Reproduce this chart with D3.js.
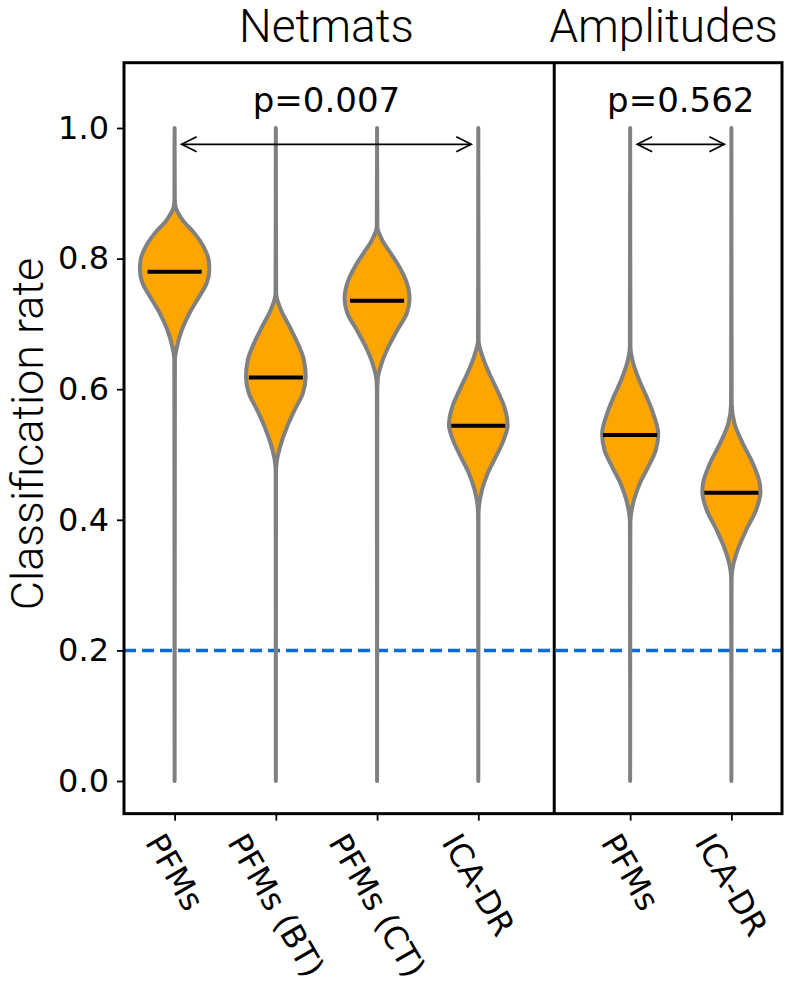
<!DOCTYPE html>
<html><head><meta charset="utf-8">
<script src="https://cdn.jsdelivr.net/npm/d3@7"></script>
<style>body{margin:0;background:#fff}</style>
</head><body>
<svg id="chart" width="786" height="993"></svg>
<script>
// ---------------- data ----------------
const categories = ["PFMs", "PFMs (BT)", "PFMs (CT)", "ICA-DR", "PFMs", "ICA-DR"];
const positions = [1, 2, 3, 4, 5.5, 6.5];
const medians = [0.780, 0.618, 0.7355, 0.544, 0.530, 0.4415];
const yTicks = [0.0, 0.2, 0.4, 0.6, 0.8, 1.0];
const yTickLabels = ["0.0", "0.2", "0.4", "0.6", "0.8", "1.0"];
const panelTitles = ["Netmats", "Amplitudes"];
const panelTitleX = [2.5, 5.83];
const chanceLevel = 0.2;
const yLabel = "Classification rate";
const compFrom = [0, 4];
const compTo = [3, 5];
const compText = ["p=0.007", "p=0.562"];
const compArrowValue = 0.975;
const compTextValue = 1.025;

// violin density profiles: [classification rate, half width in x-units]
const violin1 = [[0.0,0],[0.645,0.003],[0.665,0.023],[0.691,0.072],[0.716,0.145],[0.742,0.244],[0.762,0.316],[0.783,0.343],[0.798,0.336],[0.818,0.287],[0.839,0.195],[0.859,0.079],[0.879,0.010],[0.890,0.002],[1.0,0]];
const violin2 = [[0.0,0],[0.476,0.002],[0.492,0.012],[0.517,0.052],[0.543,0.112],[0.568,0.185],[0.594,0.267],[0.619,0.295],[0.645,0.277],[0.670,0.217],[0.696,0.135],[0.721,0.052],[0.747,0.003],[1.0,0]];
const violin3 = [[0.0,0],[0.594,0.002],[0.614,0.006],[0.640,0.046],[0.665,0.112],[0.691,0.201],[0.716,0.293],[0.739,0.321],[0.767,0.284],[0.788,0.217],[0.808,0.135],[0.828,0.052],[0.849,0.003],[1.0,0]];
const violin4 = [[0.0,0],[0.405,0.002],[0.420,0.006],[0.446,0.037],[0.471,0.092],[0.497,0.175],[0.522,0.250],[0.545,0.290],[0.573,0.257],[0.599,0.185],[0.624,0.109],[0.650,0.042],[0.675,0.003],[1.0,0]];
const violin5 = [[0.0,0],[0.395,0.002],[0.405,0.006],[0.430,0.037],[0.456,0.096],[0.481,0.178],[0.507,0.254],[0.532,0.277],[0.563,0.227],[0.589,0.161],[0.614,0.089],[0.640,0.030],[0.665,0.003],[1.0,0]];
const violin6 = [[0.0,0],[0.308,0.002],[0.323,0.009],[0.354,0.062],[0.384,0.145],[0.415,0.244],[0.443,0.287],[0.456,0.280],[0.487,0.210],[0.517,0.112],[0.548,0.030],[0.578,0.003],[1.0,0]];
const violins = [violin1, violin2, violin3, violin4, violin5, violin6];

// ---------------- drawing ----------------
const svg = d3.select("#chart");
const x = d3.scaleLinear().domain([0.5, 7.0]).range([124, 782]);
const y = d3.scaleLinear().domain([-0.05, 1.1]).range([813.65, 62.7]);

const dejavu = "'DejaVu Sans', sans-serif";
const light = "Roboto, 'Open Sans', Lato, sans-serif";

// chance level dashed line
svg.append("line")
  .attr("x1", x(0.5)).attr("x2", x(7.0))
  .attr("y1", y(chanceLevel)).attr("y2", y(chanceLevel))
  .attr("stroke", "#0a6ad6").attr("stroke-width", 3.5)
  .attr("stroke-dasharray", "12,6");

// violins
const area = d3.area()
  .curve(d3.curveMonotoneY)
  .y(d => y(d[0]));

violins.forEach((prof, i) => {
  const cx = positions[i];
  const a = area
    .x0(d => x(cx - d[1]))
    .x1(d => x(cx + d[1]));
  svg.append("path")
    .attr("d", a(prof))
    .attr("fill", "#ffa500")
    .attr("stroke", "#808080")
    .attr("stroke-width", 4)
    .attr("stroke-linejoin", "round");
});

// medians
const medHalf = 0.267;
medians.forEach((m, i) => {
  svg.append("line")
    .attr("x1", x(positions[i] - medHalf)).attr("x2", x(positions[i] + medHalf))
    .attr("y1", y(m)).attr("y2", y(m))
    .attr("stroke", "#000").attr("stroke-width", 4);
});

// comparisons
compFrom.forEach((f, k) => {
  const x1 = x(positions[f]) + 7, x2 = x(positions[compTo[k]]) - 7, yy = y(compArrowValue);
  const g = svg.append("g").attr("stroke", "#000").attr("stroke-width", 1.6).attr("fill", "none");
  g.append("line").attr("x1", x1).attr("x2", x2).attr("y1", yy).attr("y2", yy);
  g.append("path").attr("d", `M${x1 + 15},${yy - 7.5}L${x1},${yy}L${x1 + 15},${yy + 7.5}`);
  g.append("path").attr("d", `M${x2 - 15},${yy - 7.5}L${x2},${yy}L${x2 - 15},${yy + 7.5}`);
  svg.append("text")
    .attr("x", (x(positions[f]) + x(positions[compTo[k]])) / 2)
    .attr("y", y(compTextValue))
    .attr("text-anchor", "middle")
    .attr("font-family", dejavu).attr("font-size", 34)
    .text(compText[k]);
});

// frame and divider
svg.append("rect")
  .attr("x", x(0.5)).attr("y", y(1.1))
  .attr("width", x(7.0) - x(0.5)).attr("height", y(-0.05) - y(1.1))
  .attr("fill", "none").attr("stroke", "#000").attr("stroke-width", 3);
svg.append("line")
  .attr("x1", x(4.75)).attr("x2", x(4.75))
  .attr("y1", y(1.1)).attr("y2", y(-0.05))
  .attr("stroke", "#000").attr("stroke-width", 3);

// y axis
const yAxis = d3.axisLeft(y).tickValues(yTicks)
  .tickFormat((d, i) => yTickLabels[i]).tickSize(7).tickPadding(8);
const gy = svg.append("g").attr("transform", `translate(${x(0.5)},0)`).call(yAxis);
gy.select(".domain").remove();
gy.selectAll(".tick line").attr("stroke-width", 1.8);
gy.selectAll(".tick text").attr("font-family", dejavu).attr("font-size", 32).attr("fill", "#000");

// x axis
const xAxis = d3.axisBottom(x).tickValues(positions).tickFormat("").tickSize(7);
const gx = svg.append("g").attr("transform", `translate(0,${y(-0.05)})`).call(xAxis);
gx.select(".domain").remove();
gx.selectAll(".tick line").attr("stroke-width", 1.8);

const fs = 32, theta = 60 * Math.PI / 180;
categories.forEach((c, i) => {
  const t = svg.append("text")
    .attr("font-family", dejavu).attr("font-size", fs)
    .attr("text-anchor", "middle").attr("dominant-baseline", "central")
    .text(c);
  const L = t.node().getComputedTextLength();
  const H = fs * 1.0;
  const bh = L * Math.sin(theta) + H * Math.cos(theta);
  const cx = x(positions[i]), cy = y(-0.05) + 7 + 8 + bh / 2;
  t.attr("transform", `translate(${cx},${cy}) rotate(60)`);
});

// panel titles
panelTitles.forEach((tt, i) => {
  svg.append("text")
    .attr("x", x(panelTitleX[i]))
    .attr("y", 42)
    .attr("text-anchor", "middle")
    .attr("font-family", light).attr("font-weight", 300).attr("font-size", 46)
    .text(tt);
});

// y label
svg.append("text")
  .attr("transform", `translate(43,434) rotate(-90)`)
  .attr("text-anchor", "middle")
  .attr("font-family", light).attr("font-weight", 300).attr("font-size", 45)
  .text(yLabel);
</script>
</body></html>
